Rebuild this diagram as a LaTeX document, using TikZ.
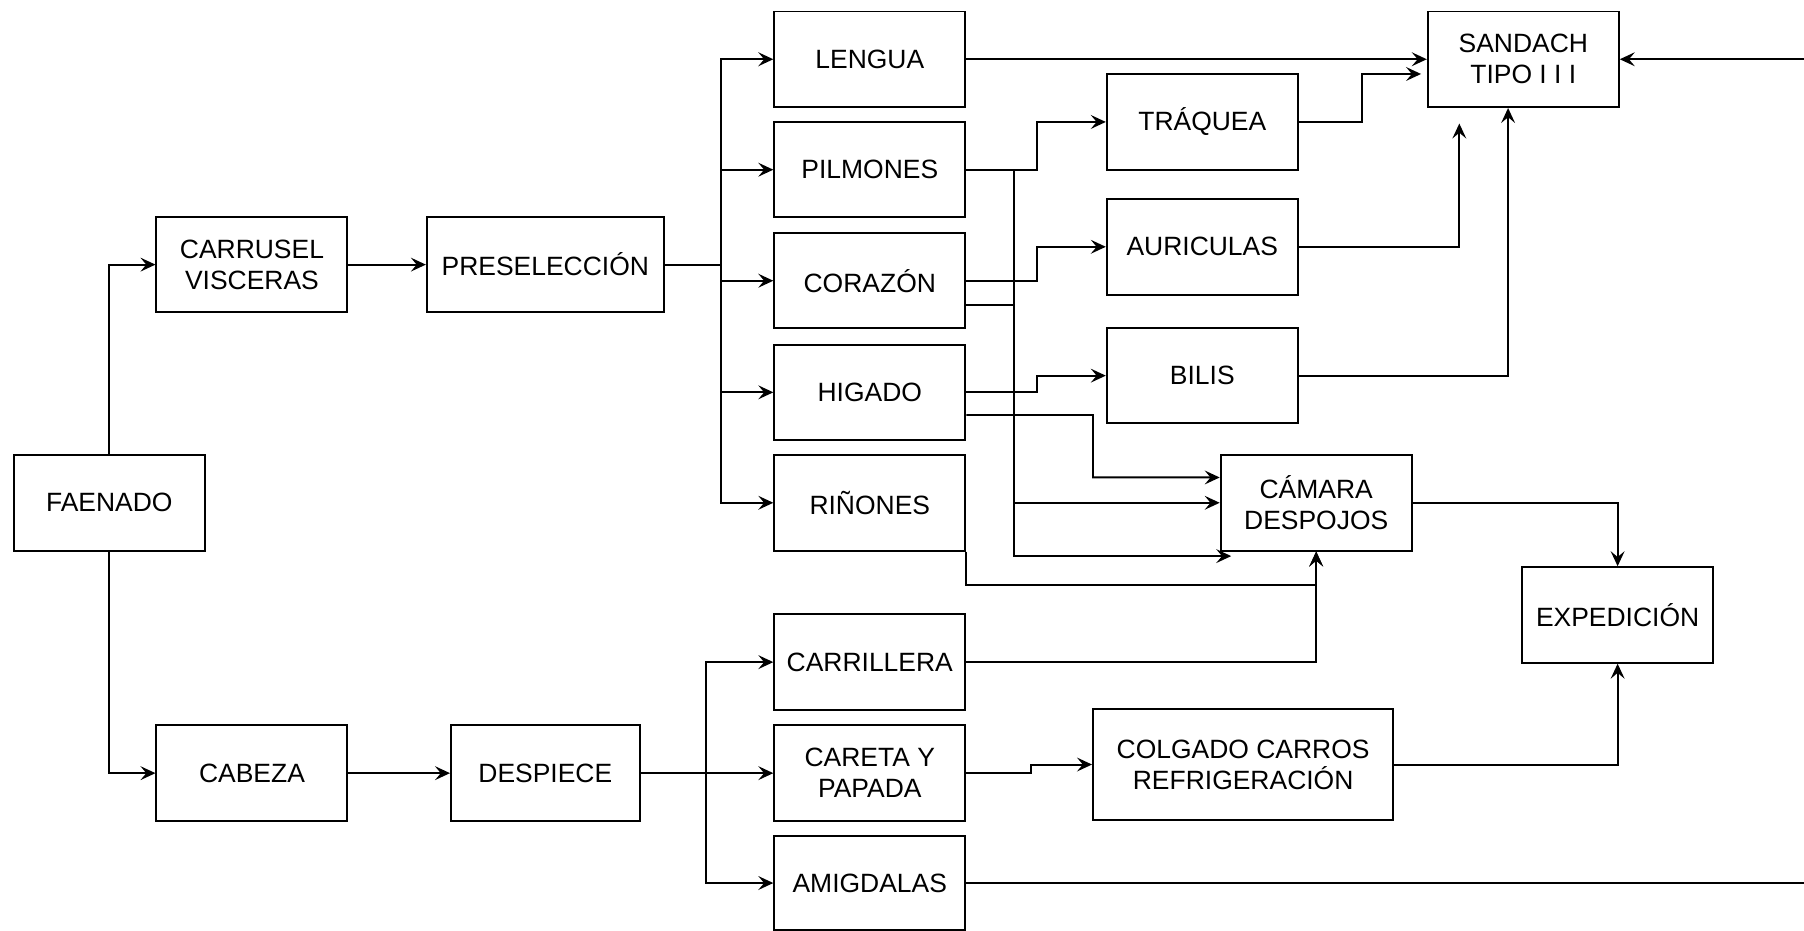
\documentclass[tikz,border=0pt]{standalone}
\usepackage{fontspec}
\setmainfont{Liberation Sans}
\usetikzlibrary{arrows.meta,calc}
\begin{document}
\begin{tikzpicture}[x=0.5pt,y=-0.5pt,
  box/.style={draw=black,line width=0.85pt,fill=white,inner sep=1pt,align=center,
    minimum width=83pt,minimum height=41.5pt,
    font=\fontsize{11.5}{13.5}\selectfont},
  arr/.style={draw=black,line width=0.85pt,-{Stealth[length=6.5pt,width=6pt,inset=2.5pt]}},
  ln/.style={draw=black,line width=0.85pt}]
\useasboundingbox (0,0) rectangle (1568,809);
% nodes
\node[box] (faen) at (95,437) {FAENADO};
\node[box] (carr) at (219,230) {CARRUSEL\\VISCERAS};
\node[box,minimum width=103pt] (pres) at (474,230) {PRESELECCIÓN};
\node[box] (leng) at (756,51.5) {LENGUA};
\node[box] (pulm) at (756,147.5) {PILMONES};
\node[box] (cora) at (756,244) {CORAZÓN};
\node[box] (higa) at (756,341) {HIGADO};
\node[box] (rino) at (756,437) {RIÑONES};
\node[box,minimum height=42pt] (traq) at (1045,106) {TRÁQUEA};
\node[box] (auri) at (1045,214.5) {AURICULAS};
\node[box] (bili) at (1045,326.5) {BILIS};
\node[box] (sand) at (1324,51.5) {SANDACH\\TIPO I I I};
\node[box] (cama) at (1144,437) {CÁMARA\\DESPOJOS};
\node[box] (expe) at (1406,534.5) {EXPEDICIÓN};
\node[box] (cabe) at (219,672) {CABEZA};
\node[box,minimum width=82pt] (desp) at (474,672) {DESPIECE};
\node[box] (carri) at (756,575.5) {CARRILLERA};
\node[box] (care) at (756,672) {CARETA Y\\PAPADA};
\node[box,minimum width=130.5pt,minimum height=48.5pt] (colg) at (1080.5,664.5) {COLGADO CARROS\\REFRIGERACIÓN};
\node[box,minimum height=40.5pt] (amig) at (756,767.5) {AMIGDALAS};
\coordinate (edgeA) at (1568,767.5);
\coordinate (edgeS) at (1568,51.5);
% connectors
\draw[arr] (faen.north) |- (carr.west);
\draw[arr] (faen.south) |- (cabe.west);
\draw[arr] (carr.east) -- (pres.west);
\draw[arr] (pres.east) -- (626.6,230) |- (leng.west);
\draw[arr] (pres.east) -- (626.6,230) |- (pulm.west);
\draw[arr] (pres.east) -- (626.6,230) |- (cora.west);
\draw[arr] (pres.east) -- (626.6,230) |- (higa.west);
\draw[arr] (pres.east) -- (626.6,230) |- (rino.west);
\draw[arr] (leng.east) -- (sand.west);
\draw[arr] (pulm.east) -- (901,147.5) |- (traq.west);
\draw[arr] (cora.east) -- (901,244) |- (auri.west);
\draw[arr] (higa.east) -- (901,341) |- (bili.west);
\draw[arr] (traq.east) -- (1184,106) |- ([xshift=-2.5pt,yshift=-6.4pt]sand.west);
\draw[arr] (auri.east) -| ([xshift=-27.8pt,yshift=-6.75pt]sand.south);
\draw[arr] (bili.east) -| ([xshift=-6.6pt]sand.south);
\draw[arr] (pulm.east) -- (881,147.5) |- ([xshift=5pt,yshift=-2pt]cama.south west);
\draw[arr] ([yshift=-10.7pt]cora.east) -- (881,265.4) |- (cama.west);
\draw[arr] ([yshift=-9.85pt]higa.east) -- (950,360.7) |- ([yshift=11pt]cama.west);
\draw[arr] (rino.south east) -- ++(0,29) -| (cama.south);
\draw[arr] (carri.east) -| (cama.south);
\draw[arr] (cama.east) -| (expe.north);
\draw[arr] (colg.east) -| (expe.south);
\draw[arr] (cabe.east) -- (desp.west);
\draw[arr] (desp.east) -- (614,672) |- (carri.west);
\draw[arr] (desp.east) -- (care.west);
\draw[arr] (desp.east) -- (614,672) |- (amig.west);
\draw[arr] (care.east) -| (896,664.5) -- (colg.west);
\draw[ln] (amig.east) -- (edgeA);
\draw[arr] (edgeS) -- (sand.east);
\end{tikzpicture}
\end{document}
